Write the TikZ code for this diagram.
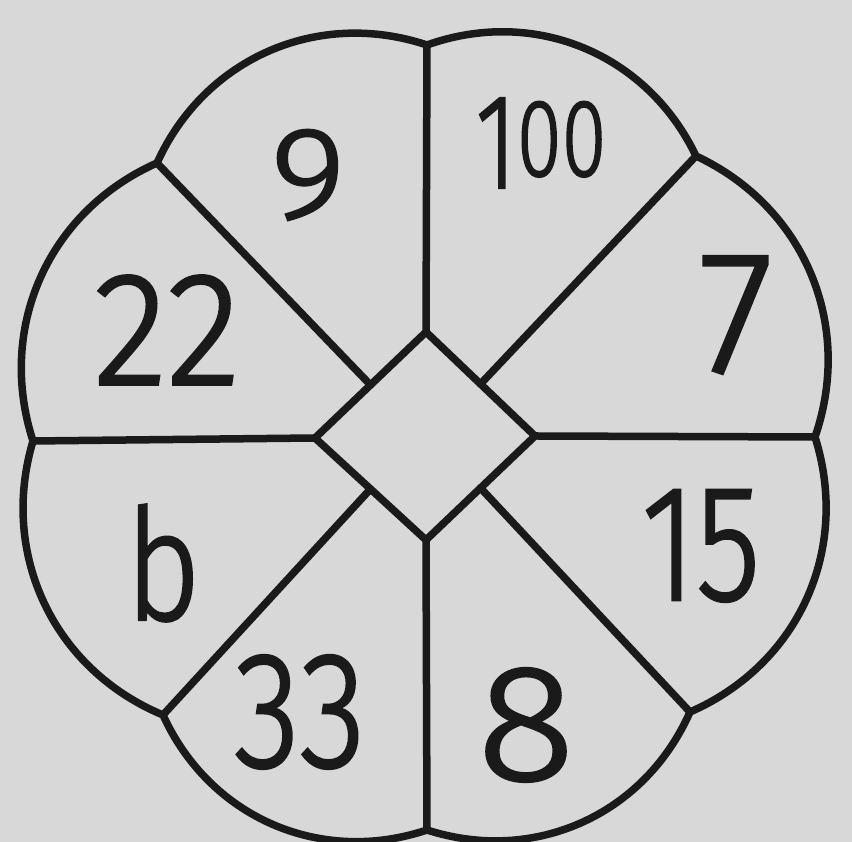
\documentclass[tikz,border=0pt]{standalone}
\usepackage{fontspec}
\usepackage{graphicx}
\usetikzlibrary{calc}
\newfontfamily\digitfont{Fira Sans Light}[FakeBold=1.8]
\definecolor{paper}{RGB}{216,216,216}
\definecolor{ink}{RGB}{26,26,26}
\newcommand\dg[3]{\scalebox{#1}[1]{\fontsize{#2}{#2}\selectfont #3}}
\begin{document}
\begin{tikzpicture}[x=1pt,y=1pt,
  edge/.style={line width=7.5pt, draw=ink, line cap=round, line join=round},
  num/.style={inner sep=0pt, text=ink, font=\digitfont, anchor=center},
  petal/.style={bend left=42}]
\fill[paper] (0,0) rectangle (852,842);
\useasboundingbox (0,0) rectangle (852,842);
% outer ends of the spokes
\coordinate (eT)  at (427,797);
\coordinate (eTR) at (696,686);
\coordinate (eR)  at (815,405);
\coordinate (eBR) at (690,130);
\coordinate (eB)  at (427,12);
\coordinate (eBL) at (163,127);
\coordinate (eL)  at (33,401);
\coordinate (eTL) at (157,679);
% central diamond
\coordinate (dT) at (426,510);
\coordinate (dR) at (535,406);
\coordinate (dB) at (426,302);
\coordinate (dL) at (315,404);
\coordinate (dTL) at ($(dL)!0.5!(dT)$);
\coordinate (dTR) at ($(dT)!0.5!(dR)$);
\coordinate (dBR) at ($(dR)!0.5!(dB)$);
\coordinate (dBL) at ($(dB)!0.5!(dL)$);
% outline
\draw[edge] (eT) to[petal] (eTR) to[petal] (eR) to[petal] (eBR) to[petal] (eB)
  to[petal] (eBL) to[petal] (eL) to[petal] (eTL) to[petal] (eT) -- cycle;
% diamond
\draw[edge] (dT) -- (dR) -- (dB) -- (dL) -- cycle;
% spokes
\draw[edge] (eT) -- (dT);
\draw[edge] (eR) -- (dR);
\draw[edge] (eB) -- (dB);
\draw[edge] (eL) -- (dL);
\draw[edge] (eTL) -- (dTL);
\draw[edge] (eTR) -- (dTR);
\draw[edge] (eBR) -- (dBR);
\draw[edge] (eBL) -- (dBL);
% numbers
\node[num] (n9)   at (308,667) {\dg{1.12}{130}{9}};
\node[num] (n100) at (541,699) {\scalebox{0.74}[1]{\fontsize{135}{135}\selectfont 1\fontsize{110}{110}\selectfont\raisebox{12pt}{00}}};
\node[num] (n7)   at (736,527) {\dg{0.98}{174}{7}};
\node[num] (n22)  at (167,512) {\dg{0.95}{161}{22}};
\node[num] (nb)   at (163,279) {\dg{0.84}{155}{b}};
\node[num] (n15)  at (701,296) {\dg{0.80}{165}{15}};
\node[num] (n33)  at (300,130) {\dg{0.82}{165}{33}};
\node[num] (n8)   at (526,117) {\dg{1.10}{165}{8}};
\end{tikzpicture}
\end{document}
